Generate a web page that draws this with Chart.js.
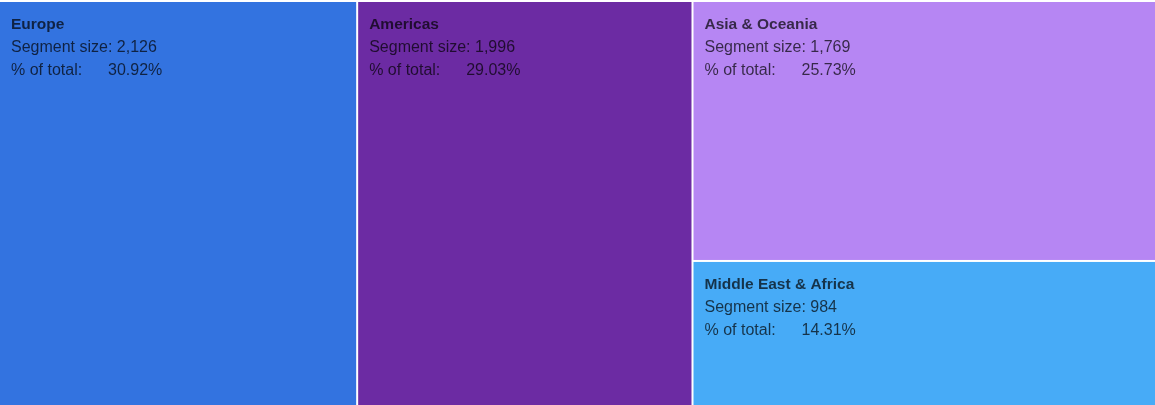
<!DOCTYPE html>
<html>
<head>
<meta charset="utf-8">
<script src="https://cdn.jsdelivr.net/npm/chart.js@4.4.0/dist/chart.umd.min.js"></script>
<style>
  html, body { margin:0; padding:0; background:#fff; }
  #wrap { width:1155px; height:405px; }
</style>
</head>
<body>
<div id="wrap"><canvas id="tree"></canvas></div>
<script>
// segments, in drawing order
const regions = ["Europe", "Americas", "Asia & Oceania", "Middle East & Africa"];
const sizes   = [2126, 1996, 1769, 984];
const colors  = ["#3373e0", "#6c2ba3", "#b686f3", "#47abf7"];
// which segments share a column (slice-and-dice as in the source)
const columns = [[0], [1], [2, 3]];

const total = sizes.reduce((a, b) => a + b, 0);
const fmtNum = (x) => new Intl.NumberFormat("en-US").format(x);
const fmtPct = (x) => (x / total * 100).toFixed(2) + "%";

// build boxes in data units: x in segment-size units, y in 0..1
function buildBoxes(){
  const boxes = [];
  let x0 = 0;
  columns.forEach(col => {
    const colSum = col.reduce((s, i) => s + sizes[i], 0);
    let y0 = 0;
    col.forEach(i => {
      const h = sizes[i] / colSum;
      boxes.push({ i, x0, x1: x0 + colSum, y0, y1: y0 + h });
      y0 += h;
    });
    x0 += colSum;
  });
  return boxes;
}

const treemapPlugin = {
  id: "treemap",
  afterDatasetsDraw(chart){
    const { ctx, scales:{ x, y } } = chart;
    const gap = 1;
    ctx.save();
    buildBoxes().forEach(b => {
      let l = x.getPixelForValue(b.x0), r = x.getPixelForValue(b.x1);
      let t = y.getPixelForValue(b.y0), btm = y.getPixelForValue(b.y1);
      if (b.x0 > 0) l += gap;
      if (b.x1 < total) r -= gap;
      if (b.y0 > 0) t += gap;
      if (b.y1 < 1) btm -= gap;
      ctx.fillStyle = colors[b.i];
      ctx.fillRect(l, t, r - l, btm - t);

      const tx = l + 11;
      ctx.fillStyle = "rgba(0,0,0,0.7)";
      ctx.textBaseline = "alphabetic";
      ctx.font = "bold 15.5px 'Liberation Sans', Arial, sans-serif";
      ctx.fillText(regions[b.i], tx, t + 27);
      ctx.font = "16px 'Liberation Sans', Arial, sans-serif";
      ctx.fillText("Segment size: " + fmtNum(sizes[b.i]), tx, t + 50);
      ctx.fillText("% of total:", tx, t + 73);
      ctx.fillText(fmtPct(sizes[b.i]), l + 108, t + 73);
    });
    ctx.restore();
  }
};

new Chart(document.getElementById("tree"), {
  type: "scatter",
  data: { datasets: [{ data: [], pointRadius: 0 }] },
  options: {
    responsive: true,
    maintainAspectRatio: false,
    animation: false,
    layout: { padding: { top: 2, left: 0, right: 0, bottom: 0 } },
    plugins: { legend: { display: false }, tooltip: { enabled: false } },
    scales: {
      x: { type: "linear", min: 0, max: total, display: false },
      y: { type: "linear", min: 0, max: 1, reverse: true, display: false }
    }
  },
  plugins: [treemapPlugin]
});
</script>
</body>
</html>
